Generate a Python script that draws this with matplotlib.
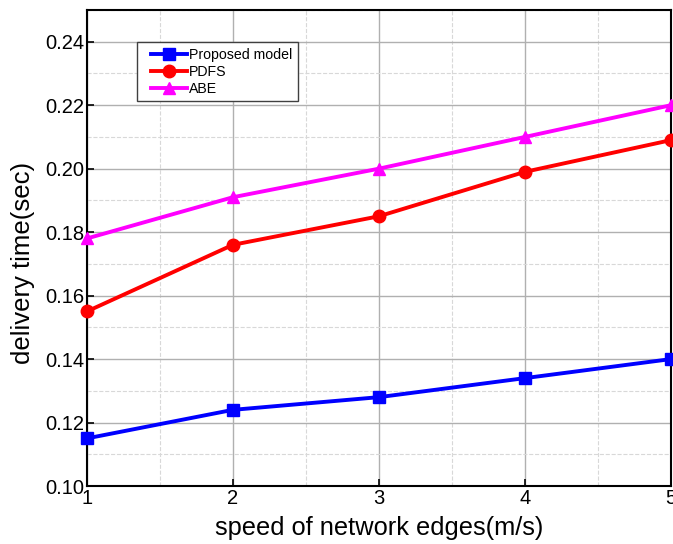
import matplotlib
matplotlib.use('Agg')
import matplotlib.pyplot as plt
from matplotlib.ticker import MultipleLocator
from matplotlib.legend_handler import HandlerLine2D

plt.rcParams['font.family'] = ['Liberation Sans', 'DejaVu Sans']

speed = [1, 2, 3, 4, 5]
proposed = [0.115, 0.124, 0.128, 0.134, 0.140]
pdfs = [0.155, 0.176, 0.185, 0.199, 0.209]
abe = [0.178, 0.191, 0.200, 0.210, 0.220]

fig = plt.figure(figsize=(6.73, 5.44), dpi=100)
ax = fig.add_axes([0.129, 0.1066, 0.868, 0.875])

l1, = ax.plot(speed, proposed, color='#0000ff', marker='s', lw=2.8, ms=8, label='Proposed model', clip_on=False, zorder=5)
l2, = ax.plot(speed, pdfs, color='#ff0000', marker='o', lw=2.8, ms=9, label='PDFS', clip_on=False, zorder=5)
l3, = ax.plot(speed, abe, color='#ff00ff', marker='^', lw=2.8, ms=9, label='ABE', clip_on=False, zorder=5)

ax.set_xlim(1, 5)
ax.set_ylim(0.10, 0.25)
ax.xaxis.set_major_locator(MultipleLocator(1))
ax.xaxis.set_minor_locator(MultipleLocator(0.5))
ax.yaxis.set_minor_locator(MultipleLocator(0.01))
ax.set_yticks([0.10, 0.12, 0.14, 0.16, 0.18, 0.20, 0.22, 0.24])
ax.set_yticklabels(['0.10', '0.12', '0.14', '0.16', '0.18', '0.20', '0.22', '0.24'])

ax.grid(which='major', color='#b0b0b0', lw=1.0, ls='-')
ax.grid(which='minor', color='#d8d8d8', lw=0.8, ls='--')
ax.set_axisbelow(True)
ax.tick_params(which='both', direction='in', labelsize=14.5, length=5, width=1.2, pad=2)
ax.tick_params(which='minor', length=0)
for s in ax.spines.values():
    s.set_linewidth(1.5)

ax.set_xlabel('speed of network edges(m/s)', fontsize=18.3, labelpad=6)
ax.set_ylabel('delivery time(sec)', fontsize=18.5)
ax.yaxis.set_label_coords(-0.089, 0.468)

hm = {h: HandlerLine2D(xpad=0.59) for h in (l1, l2, l3)}
leg = ax.legend(loc='upper left', bbox_to_anchor=(0.0856, 0.933), borderaxespad=0, fontsize=10.2,
                fancybox=False, edgecolor='#404040', framealpha=1, handler_map=hm,
                borderpad=0.42, labelspacing=0.2, handlelength=3.13, handletextpad=0.14)
leg.get_frame().set_linewidth(1.0)

fig.savefig('out.png', dpi=100)
